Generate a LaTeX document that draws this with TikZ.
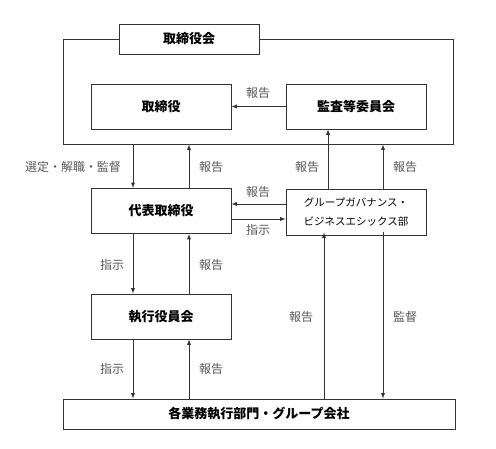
\documentclass[tikz,border=0pt]{standalone}
\usepackage{fontspec}
\setmainfont{Noto Sans CJK JP}
\begin{document}
\begin{tikzpicture}[x=1pt,y=-1pt,>=latex,line width=0.9pt,
  box/.style={draw=black!80,fill=white,minimum width=140pt,minimum height=45pt,font=\bfseries\fontsize{13}{15}\selectfont},
  lbl/.style={text=black!65,font=\fontsize{12}{14}\selectfont},
  link/.style={draw=black!80,->}]
\useasboundingbox (0,0) rectangle (496,449);
%% board frame
\node[draw=black!80,minimum width=390pt,minimum height=105pt] (board) at (258,91.5) {};
\node[box,minimum height=30pt] (title) at (189,39) {取締役会};
%% boxes
\node[box] (dir) at (161,106.5) {取締役};
\node[box] (audit) at (356,106.5) {監査等委員会};
\node[box] (rep) at (161,211) {代表取締役};
\node[box,minimum height=46pt,font=\fontsize{10.5}{19}\selectfont,align=center] (gov) at (356,212) {グループガバナンス・\\ビジネスエシックス部};
\node[box] (exec) at (161,316.5) {執行役員会};
\node[box,minimum width=392pt,minimum height=30pt] (ops) at (259,414) {各業務執行部門・グループ会社};
%% audit -> directors
\draw[link] (audit) -- (dir);
\node[lbl] at (258,93) {報告};
%% board <-> representative
\draw[link] ([xshift=-28pt]rep.north |- board.south) -- ([xshift=-28pt]rep.north);
\draw[link] ([xshift=28pt]rep.north) -- ([xshift=28pt]rep.north |- board.south);
\node[lbl] at (73,167) {選定・解職・監督};
\node[lbl] at (211,167) {報告};
%% governance -> audit, board
\draw[link] ([xshift=-28pt]gov.north) -- ([xshift=-28pt]audit.south);
\draw[link] ([xshift=27pt]gov.north) -- ([xshift=27pt]gov.north |- board.south);
\node[lbl] at (307,167) {報告};
\node[lbl] at (405,167) {報告};
%% representative <-> governance
\draw[link] ([yshift=8pt]gov.west) -- ([yshift=8pt]gov.west -| rep.east);
\draw[link] ([yshift=-8pt]rep.east) -- ([yshift=-8pt]rep.east -| gov.west);
\node[lbl] at (258,192) {報告};
\node[lbl] at (258,230) {指示};
%% representative <-> executive board
\draw[link] ([xshift=-28pt]rep.south) -- ([xshift=-28pt]exec.north);
\draw[link] ([xshift=28pt]exec.north) -- ([xshift=28pt]rep.south);
\node[lbl] at (112,265) {指示};
\node[lbl] at (211,265) {報告};
%% executive board <-> operations
\draw[link] ([xshift=-28pt]exec.south) -- ([xshift=-28pt]exec.south |- ops.north);
\draw[link] ([xshift=28pt]exec.south |- ops.north) -- ([xshift=28pt]exec.south);
\node[lbl] at (112,369) {指示};
\node[lbl] at (211,369) {報告};
%% operations <-> governance
\draw[link] ([xshift=-32pt]gov.south |- ops.north) -- ([xshift=-32pt,yshift=3pt]gov.south);
\draw[link] ([xshift=27pt,yshift=3pt]gov.south) -- ([xshift=27pt]gov.south |- ops.north);
\node[lbl] at (301,317) {報告};
\node[lbl] at (405,317) {監督};
\end{tikzpicture}
\end{document}
